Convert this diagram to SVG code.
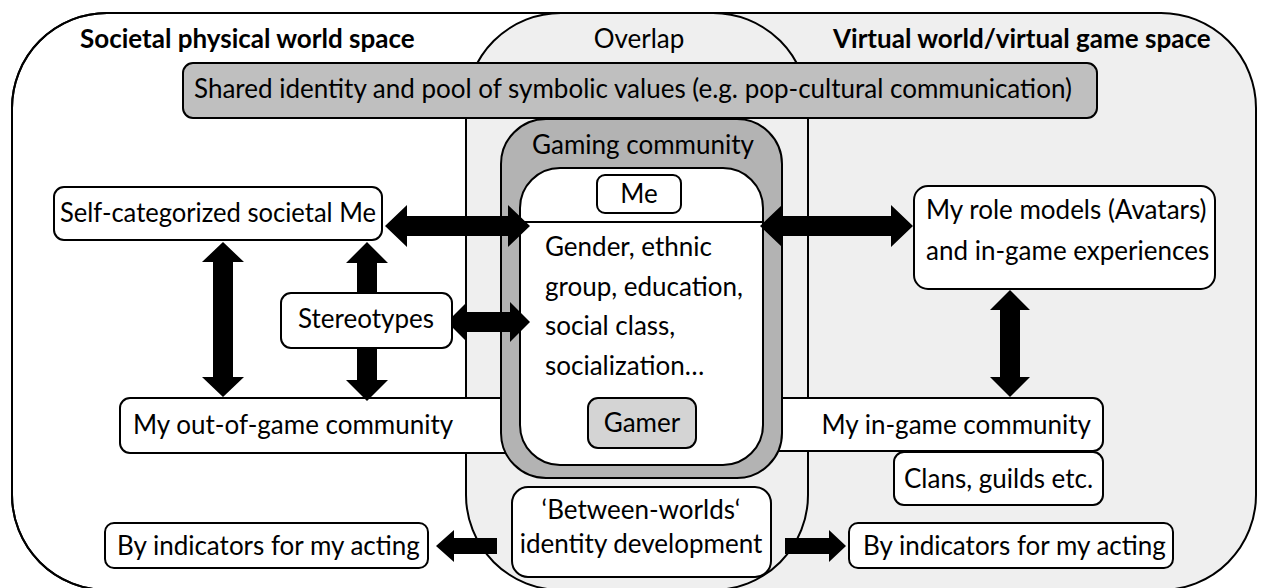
<svg xmlns="http://www.w3.org/2000/svg" width="1261" height="588" viewBox="0 0 1261 588">
<style>
text{font-family:Lato,"Open Sans","Liberation Sans",sans-serif;font-size:26px;fill:#000}
.b{font-weight:bold}
.m{text-anchor:middle}
.e{text-anchor:end}
.box{fill:#fff;stroke:#000;stroke-width:2}
.region{stroke:#000;stroke-width:2}
.arrow{fill:#000;stroke:none}
</style>
<g id="regions">
<rect class="region" x="12" y="13" width="796" height="577" rx="95" fill="#fff"/>
<rect class="region" x="466" y="13" width="790" height="577" rx="95" fill="#efefef"/>
<rect class="region" x="12" y="13" width="796" height="577" rx="95" fill="none"/>
<text class="b" x="80" y="48">Societal physical world space</text>
<text class="m" x="639" y="48">Overlap</text>
<text class="b" x="833" y="48">Virtual world/virtual game space</text>
</g>
<g id="shared">
<rect x="183" y="63" width="914" height="55" rx="10" fill="#bfbfbf" stroke="#000" stroke-width="2"/>
<text x="194" y="98">Shared identity and pool of symbolic values (e.g. pop-cultural communication)</text>
</g>
<g id="outgame">
<rect class="box" x="120" y="398" width="420" height="55" rx="10"/>
<text x="133" y="434">My out-of-game community</text>
</g>
<g id="ingame">
<rect class="box" x="740" y="398" width="363" height="53" rx="10"/>
<text class="e" x="1091" y="434">My in-game community</text>
</g>
<g id="gaming">
<rect x="501" y="119" width="281" height="359" rx="45" fill="#b3b3b3" stroke="#000" stroke-width="2"/>
<text class="m" x="643" y="154">Gaming community</text>
<rect class="box" x="520" y="168" width="243" height="297" rx="40"/>
<line x1="520" y1="222" x2="763" y2="222" stroke="#000" stroke-width="2"/>
<text x="545" y="256">Gender, ethnic</text>
<text x="545" y="296">group, education,</text>
<text x="545" y="335">social class,</text>
<text x="545" y="375">socialization…</text>
</g>
<g id="me">
<rect class="box" x="597" y="175" width="84" height="38" rx="8"/>
<text class="m" x="639" y="203">Me</text>
</g>
<g id="gamer">
<rect x="588" y="398" width="108" height="50" rx="10" fill="#d4d4d4" stroke="#000" stroke-width="2"/>
<text class="m" x="642" y="432">Gamer</text>
</g>
<g id="connectors">
<polygon class="arrow" points="385,226 407,205 407,216 508,216 508,205 530,226 508,247 508,236 407,236 407,247"/>
<polygon class="arrow" points="760,226 782,205 782,216 891,216 891,205 913,226 891,247 891,236 782,236 782,247"/>
<polygon class="arrow" points="447,322 467,302 467,312 510,312 510,302 530,322 510,342 510,332 467,332 467,342"/>
<polygon class="arrow" points="223,242 244,262 233,262 233,377 244,377 223,397 202,377 213,377 213,262 202,262"/>
<polygon class="arrow" points="1010,290 1030,310 1020,310 1020,377 1030,377 1010,397 990,377 1000,377 1000,310 990,310"/>
<polygon class="arrow" points="367,242 388,263 377,263 377,293 357,293 357,263 346,263"/>
<polygon class="arrow" points="357,348 377,348 377,380 388,380 367,401 346,380 357,380"/>
<polygon class="arrow" points="436,546 454,530 454,538 497,538 497,554 454,554 454,562"/>
<polygon class="arrow" points="785,538 829,538 829,530 846,546 829,562 829,554 785,554"/>
</g>
<g id="selfme">
<rect class="box" x="54" y="187" width="328" height="53" rx="10"/>
<text x="60" y="222" textLength="316" lengthAdjust="spacingAndGlyphs">Self-categorized societal Me</text>
</g>
<g id="rolemodels">
<rect class="box" x="914" y="186" width="301" height="103" rx="14"/>
<text x="926" y="219">My role models (Avatars)</text>
<text x="926" y="260">and in-game experiences</text>
</g>
<g id="stereotypes">
<rect class="box" x="281" y="293" width="171" height="55" rx="10"/>
<text class="m" x="366" y="328">Stereotypes</text>
</g>
<g id="clans">
<rect class="box" x="894" y="452" width="209" height="53" rx="10"/>
<text x="904" y="488">Clans, guilds etc.</text>
</g>
<g id="between">
<rect class="box" x="512" y="487" width="259" height="90" rx="16"/>
<text class="m" x="641" y="519">‘Between-worlds‘</text>
<text class="m" x="641" y="553">identity development</text>
</g>
<g id="indicators-left">
<rect class="box" x="105" y="523" width="323" height="45" rx="9"/>
<text x="117" y="555">By indicators for my acting</text>
</g>
<g id="indicators-right">
<rect class="box" x="849" y="523" width="324" height="45" rx="9"/>
<text x="863" y="555">By indicators for my acting</text>
</g>
</svg>
